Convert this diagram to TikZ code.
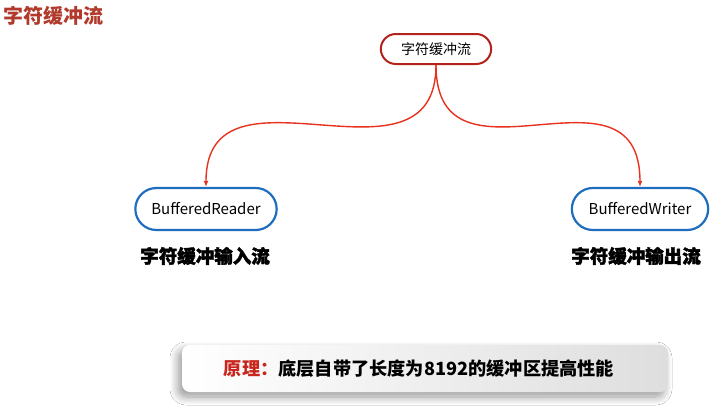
\documentclass[tikz,border=0pt]{standalone}
\usepackage{fontspec}
\setmainfont{Noto Sans CJK SC}
\newfontfamily\heavyfont[FakeBold=2]{Noto Sans CJK SC Black}
\usetikzlibrary{arrows.meta}
\usetikzlibrary{shapes.misc}
\usetikzlibrary{shadows.blur}
\definecolor{titleRed}{HTML}{B23A2C}
\definecolor{topRed}{HTML}{B4231B}
\definecolor{flowRed}{HTML}{E8321F}
\definecolor{leafBlue}{HTML}{1F6DBE}
\definecolor{noteRed}{HTML}{C8261C}
\tikzset{
  topic/.style = {rounded rectangle, draw=#1, line width=2pt, minimum width=117pt, minimum height=30pt, font=\fontsize{14}{14}\selectfont},
  leaf/.style = {rounded rectangle, draw=#1, line width=2.2pt, minimum height=42pt, font=\fontsize{15}{15}\selectfont},
  flow/.style = {color=#1, line width=1.4pt, -{Latex[length=6pt,width=5pt]}},
  caption/.style = {font=\heavyfont\fontsize{18.5}{18.5}\selectfont},
  note/.style = {rounded corners=8pt, minimum width=486pt, minimum height=47pt, left color=white, right color=black!13, blur shadow={shadow xshift=-4pt, shadow yshift=-5pt, shadow blur steps=10, shadow blur radius=8pt, shadow opacity=40}, font=\bfseries\fontsize{18.2}{18.2}\selectfont}
}

\begin{document}
\begin{tikzpicture}[x=1pt,y=-1pt]

    \useasboundingbox[fill=white] (0,0) rectangle (715,407);

    % Title
    \node[anchor=west, inner sep=0pt, text=titleRed, font=\bfseries\fontsize{20}{20}\selectfont] (title) at (3,16) {字符缓冲流};

    % Nodes
    \node[topic={topRed}] (stream) at (436,49) {字符缓冲流};
    \node[leaf={leafBlue}, minimum width=148pt] (reader) at (206,209) {BufferedReader};
    \node[leaf={leafBlue}, minimum width=143pt] (writer) at (640,209) {BufferedWriter};

    % Captions
    \node[caption] (readerCap) at (205,256) {字符缓冲输入流};
    \node[caption] (writerCap) at (636,256) {字符缓冲输出流};

    % Connectors
    \draw[flow={flowRed}] (stream.south) .. controls +(0,136) and +(0,-137) .. (reader.north);
    \draw[flow={flowRed}] (stream.south) .. controls +(0,136) and +(0,-137) .. (writer.north);

    % Note
    \node[note] (principle) at (425,368.5) {\textcolor{noteRed}{原理：}底层自带了长度为8192的缓冲区提高性能\hspace*{12pt}};

\end{tikzpicture}
\end{document}
